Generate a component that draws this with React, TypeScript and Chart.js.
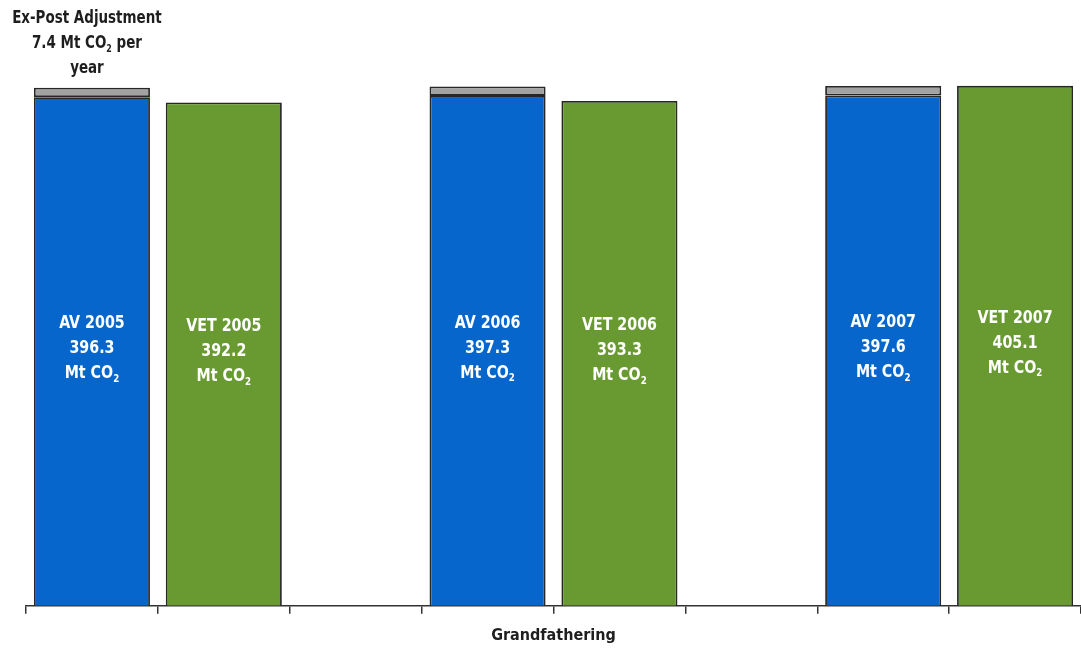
import React, { useEffect, useRef } from 'react';
import { Chart, registerables } from 'chart.js';

Chart.register(...registerables);

// Allocated (AV) vs verified (VET) emissions per year, Mt CO2
const categories = ['AV 2005', 'VET 2005', '', 'AV 2006', 'VET 2006', '', 'AV 2007', 'VET 2007'];
const emissions: (number | null)[] = [396.3, 392.2, null, 397.3, 393.3, null, 397.6, 405.1];
const expostAdjustment: (number | null)[] = [7.4, null, null, 7.4, null, null, 7.4, null];
const axisTitle = 'Grandfathering';
const unitMain = 'Mt CO';
const unitSub = '2';
const noteLines: { t: string; sub?: boolean }[][] = [
  [{ t: 'Ex-Post Adjustment' }],
  [{ t: '7.4 Mt CO' }, { t: '2', sub: true }, { t: ' per' }],
  [{ t: 'year' }],
];

const FONT = '"DejaVu Sans Condensed", "Liberation Sans Narrow", sans-serif';
const BLUE = '#0766cc';
const GREEN = '#689a31';
const GREY = '#a2a2a2';
const EDGE = '#262626';
const SQUEEZE = 0.88;

// Draws a line of bold text (with optional subscript parts), narrowed horizontally
function drawRich(
  ctx: CanvasRenderingContext2D,
  parts: { t: string; sub?: boolean }[],
  cx: number,
  cy: number,
  size: number,
  color: string
) {
  const mainFont = `bold ${size}px ${FONT}`;
  const subFont = `bold ${Math.round(size * 0.6)}px ${FONT}`;
  let total = 0;
  const widths = parts.map((p) => {
    ctx.font = p.sub ? subFont : mainFont;
    const w = ctx.measureText(p.t).width;
    total += w;
    return w;
  });
  ctx.save();
  ctx.translate(cx, cy);
  ctx.scale(SQUEEZE, 1);
  let x = -total / 2;
  ctx.fillStyle = color;
  ctx.textAlign = 'left';
  ctx.textBaseline = 'middle';
  parts.forEach((p, i) => {
    ctx.font = p.sub ? subFont : mainFont;
    ctx.fillText(p.t, x, p.sub ? size * 0.32 : 0);
    x += widths[i];
  });
  ctx.restore();
}

const barLabels = {
  id: 'barLabels',
  afterDatasetsDraw(chart: Chart) {
    const ctx = chart.ctx;
    const meta = chart.getDatasetMeta(0);
    ctx.save();
    meta.data.forEach((el: any, i: number) => {
      const v = emissions[i];
      if (v == null) return;
      const mid = (el.y + el.base) / 2 - 3;
      const size = 18;
      drawRich(ctx, [{ t: categories[i] }], el.x, mid - 25, size, '#ffffff');
      drawRich(ctx, [{ t: v.toFixed(1) }], el.x, mid, size, '#ffffff');
      drawRich(ctx, [{ t: unitMain }, { t: unitSub, sub: true }], el.x, mid + 25, size, '#ffffff');
    });
    // note above the first adjusted bar
    const adjMeta = chart.getDatasetMeta(1);
    const first = adjMeta.data[0] as any;
    if (first) {
      noteLines.forEach((line, k) => {
        drawRich(ctx, line, first.x - 5, 19 + k * 25, 17, '#1e1e1e');
      });
    }
    ctx.restore();
  },
};

export default function App() {
  const ref = useRef<HTMLCanvasElement | null>(null);

  useEffect(() => {
    document.body.style.margin = '0';
    document.body.style.overflow = 'hidden';
    const canvas = ref.current;
    if (!canvas) return;
    const colors = categories.map((c) => (c.startsWith('AV') ? BLUE : GREEN));
    const chart = new Chart(canvas, {
      type: 'bar',
      data: {
        labels: categories,
        datasets: [
          {
            label: 'Emissions',
            data: emissions,
            backgroundColor: colors,
            borderColor: EDGE,
            borderWidth: 1.8,
            borderSkipped: 'bottom',
            barPercentage: 0.88,
            categoryPercentage: 1,
          },
          {
            label: 'Ex-Post Adjustment',
            data: expostAdjustment,
            backgroundColor: GREY,
            borderColor: EDGE,
            borderWidth: 1.8,
            borderSkipped: false,
            barPercentage: 0.88,
            categoryPercentage: 1,
          },
        ],
      },
      options: {
        responsive: false,
        animation: false,
        devicePixelRatio: 1,
        layout: { padding: { left: 26, right: 0, top: 0, bottom: 0 } },
        plugins: { legend: { display: false }, tooltip: { enabled: false }, title: { display: false } },
        scales: {
          x: {
            stacked: true,
            offset: true,
            grid: {
              offset: true,
              drawOnChartArea: false,
              drawTicks: true,
              tickLength: 8,
              color: '#333333',
              lineWidth: 1.5,
            },
            border: { display: true, color: '#333333', width: 1.5 },
            ticks: { display: false },
            title: {
              display: true,
              text: axisTitle,
              color: '#1e1e1e',
              font: { family: FONT, size: 16, weight: 'bold', lineHeight: 1.2 },
              padding: { top: 12, bottom: 5 },
            },
          },
          y: {
            stacked: true,
            display: false,
            min: 0,
            max: 472,
          },
        },
      },
      plugins: [barLabels],
    });
    return () => chart.destroy();
  }, []);

  return (
    <div style={{ width: 1081, height: 650, background: '#ffffff' }}>
      <canvas ref={ref} width={1081} height={650} style={{ display: 'block' }} />
    </div>
  );
}
